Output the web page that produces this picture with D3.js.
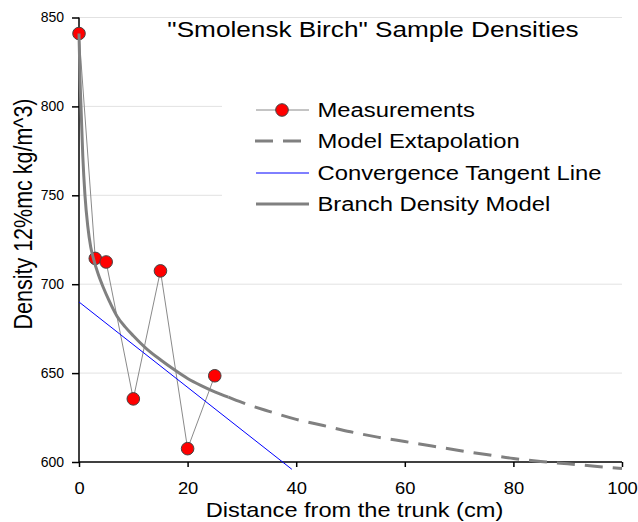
<!DOCTYPE html>
<html>
<head>
<meta charset="utf-8">
<script src="https://cdn.jsdelivr.net/npm/d3@7"></script>
<style>
  html, body { margin: 0; padding: 0; background: #fff; }
  svg { display: block; font-family: "Liberation Sans", Arial, sans-serif; }
</style>
</head>
<body>
<svg id="chart" width="638" height="522"></svg>
<script>
// ---- data ----
const measX = [0, 3, 5, 10, 15, 20, 25];
const measY = [841, 714.5, 712.5, 635.5, 707.5, 607.5, 648.5];

const modelX = [0, 0.2, 0.37, 0.7, 1.1, 1.6, 2.15, 2.7, 3.5, 4.5, 5.5, 7, 8.5, 10, 12.5, 15, 17.5, 20, 22.5, 25, 27.5];
const modelY = [841, 814, 800, 772, 750, 733, 721, 714, 706, 698, 691, 682, 676, 671, 663.5, 657.5, 652, 647, 643, 639.5, 636.5];

const extraX = [27.5, 30, 35, 40, 45, 50, 55, 60, 65, 70, 75, 80, 85, 90, 95, 100];
const extraY = [636.5, 633.5, 628.5, 624, 620.5, 617, 614, 611.5, 609, 606.5, 604.2, 602, 600.3, 599, 597.6, 596.4];

const tangentX = [0, 39.2];
const tangentY = [690, 595.9];

const xTicks = [0, 20, 40, 60, 80, 100];
const yTicks = [600, 650, 700, 750, 800, 850];

const legendLabels = ["Measurements", "Model Extapolation", "Convergence Tangent Line", "Branch Density Model"];
const titleText = "\"Smolensk Birch\" Sample Densities";
const xTitle = "Distance from the trunk (cm)";
const yTitle = "Density 12%mc kg/m^3)";

// ---- chart ----
const svg = d3.select("#chart");
const x = d3.scaleLinear().domain([0, 100]).range([79, 622]);
const y = d3.scaleLinear().domain([600, 850]).range([462, 17.5]);

const zip = (xs, ys) => xs.map((d, i) => [d, ys[i]]);
const line = d3.line().x(d => x(d[0])).y(d => y(d[1]));
const smooth = d3.line().x(d => x(d[0])).y(d => y(d[1])).curve(d3.curveMonotoneX);

// gridlines
svg.append("g").selectAll("line").data(yTicks.filter(v => v !== 600)).join("line")
  .attr("x1", x(0)).attr("x2", x(100))
  .attr("y1", d => y(d)).attr("y2", d => y(d))
  .attr("stroke", "#e2e2e2").attr("stroke-width", 1);

// legend background (covers gridlines)
svg.append("rect").attr("x", 222).attr("y", 88).attr("width", 404).attr("height", 134).attr("fill", "#fff");

// axes
const yAxis = svg.append("g").attr("transform", `translate(${x(0)},0)`)
  .call(d3.axisLeft(y).tickValues(yTicks).tickSize(7).tickPadding(8).tickFormat(d3.format("d")));
yAxis.select(".domain").attr("stroke", "#000").attr("stroke-width", 1.5).attr("d", `M0,${y(600)}V${y(850)}`);
yAxis.selectAll(".tick line").attr("stroke", "#000").attr("stroke-width", 1.5);
yAxis.selectAll(".tick text").attr("font-size", 14).attr("fill", "#000")
  .attr("font-family", "Liberation Sans, Arial, sans-serif");

const xAxis = svg.append("g").attr("transform", `translate(0,${y(600)})`)
  .call(d3.axisBottom(x).tickValues(xTicks).tickSize(5).tickPadding(15).tickFormat(d3.format("d")));
xAxis.select(".domain").attr("stroke", "#000").attr("stroke-width", 1.5).attr("d", `M${x(0)},0H${x(100)}`);
xAxis.selectAll(".tick line").attr("stroke", "#000").attr("stroke-width", 1.5);
xAxis.selectAll(".tick text").attr("font-size", 17).attr("fill", "#000")
  .attr("font-family", "Liberation Sans, Arial, sans-serif")
  .attr("transform", "scale(1.08,1)");

// series: measurements
svg.append("path").attr("d", line(zip(measX, measY)))
  .attr("fill", "none").attr("stroke", "#8a8a8a").attr("stroke-width", 1);
svg.append("g").selectAll("circle").data(zip(measX, measY)).join("circle")
  .attr("cx", d => x(d[0])).attr("cy", d => y(d[1])).attr("r", 6.3)
  .attr("fill", "#ff0000").attr("stroke", "#444").attr("stroke-width", 1);

// extrapolation (dashed)
svg.append("path").attr("d", smooth(zip(extraX, extraY)))
  .attr("fill", "none").attr("stroke", "#808080").attr("stroke-width", 3)
  .attr("stroke-dasharray", "18,10");

// tangent
svg.append("path").attr("d", line(zip(tangentX, tangentY)))
  .attr("fill", "none").attr("stroke", "#0000ff").attr("stroke-width", 1);

// model
svg.append("path").attr("d", smooth(zip(modelX, modelY)))
  .attr("fill", "none").attr("stroke", "#808080").attr("stroke-width", 3);

// text helper (text in reference is horizontally stretched)
function stretchedText(txt, tx, ty, size, sx, anchor, rot) {
  const t = svg.append("text")
    .attr("transform", `translate(${tx},${ty}) scale(${sx},1)` + (rot ? ` rotate(${rot})` : ""))
    .attr("font-size", size).attr("fill", "#000").attr("text-anchor", anchor)
    .text(txt);
  return t;
}

// title
stretchedText(titleText, 373, 37, 22, 1.19, "middle");

// axis titles
stretchedText(xTitle, 354.5, 517, 20, 1.18, "middle");
stretchedText(yTitle, 31.5, 214, 21.5, 1.18, "middle", -90);

// legend
const rowsY = [110, 141, 173, 204];
const lg = svg.append("g");
// Measurements
lg.append("line").attr("x1", 256).attr("x2", 309).attr("y1", rowsY[0]).attr("y2", rowsY[0])
  .attr("stroke", "#8a8a8a").attr("stroke-width", 1);
lg.append("circle").attr("cx", 282).attr("cy", rowsY[0]).attr("r", 6.3)
  .attr("fill", "#ff0000").attr("stroke", "#444").attr("stroke-width", 1);
// Extrapolation
lg.append("line").attr("x1", 255).attr("x2", 302).attr("y1", rowsY[1]).attr("y2", rowsY[1])
  .attr("stroke", "#808080").attr("stroke-width", 3).attr("stroke-dasharray", "18,10");
// Tangent
lg.append("line").attr("x1", 256).attr("x2", 309).attr("y1", rowsY[2]).attr("y2", rowsY[2])
  .attr("stroke", "#0000ff").attr("stroke-width", 1);
// Model
lg.append("line").attr("x1", 256).attr("x2", 309).attr("y1", rowsY[3]).attr("y2", rowsY[3])
  .attr("stroke", "#808080").attr("stroke-width", 3);
legendLabels.forEach((lab, i) => stretchedText(lab, 317.5, rowsY[i] + 7, 20, 1.19, "start"));
</script>
</body>
</html>
